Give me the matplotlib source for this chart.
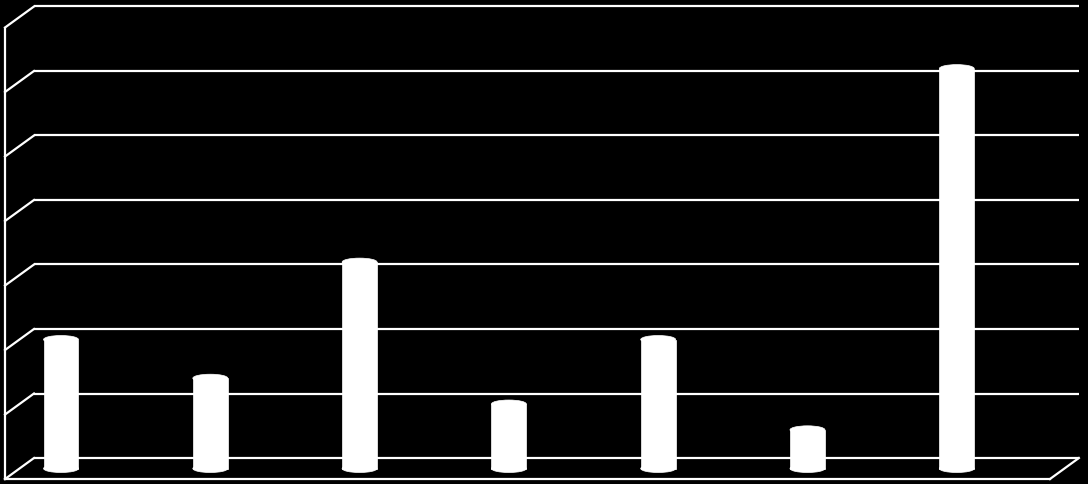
import matplotlib
matplotlib.use("Agg")
import matplotlib.pyplot as plt
from matplotlib.patches import Ellipse

categories = ["1", "2", "3", "4", "5", "6", "7"]
values = [2.0, 1.4, 3.2, 1.0, 2.0, 0.6, 6.2]
grid_levels = [0, 1, 2, 3, 4, 5, 6, 7]

fig = plt.figure(figsize=(10.88, 4.85), dpi=100, facecolor="black")
ax = fig.add_axes([0, 0, 1, 1])
ax.set_facecolor("black")
ax.set_xlim(-0.4086, 6.879)
ax.set_ylim(-0.240, 7.279)
ax.axis("off")

# oblique depth geometry (data units)
dxb, dyb = 0.097, 0.163
x_back_left, x_front_left = -0.181, -0.375
x_back_right, x_front_right = 6.818, 6.624
lw = 1.6
col = "white"

top = grid_levels[-1]
for v in grid_levels:
    ax.plot([x_back_left, x_back_right], [v + dyb, v + dyb], color=col, lw=lw, zorder=1,
            solid_capstyle="butt")
    ax.plot([x_front_left, x_back_left], [v - dyb, v + dyb], color=col, lw=lw, zorder=1)
ax.plot([x_front_left, x_front_left], [-dyb, top - dyb], color=col, lw=lw, zorder=1)
ax.plot([x_front_left, x_front_right], [-dyb, -dyb], color=col, lw=lw, zorder=1)
ax.plot([x_front_right, x_back_right], [-dyb, dyb], color=col, lw=lw, zorder=1)

xs = list(range(len(categories)))
bw = 0.234
eh = 0.124
ax.bar(xs, values, width=bw, color="white", edgecolor="white", linewidth=0.5, zorder=3)
for x, v in zip(xs, values):
    ax.add_patch(Ellipse((x, v), bw, eh, facecolor="white", edgecolor="white",
                         linewidth=0.5, zorder=4))
    ax.add_patch(Ellipse((x, 0), bw, eh, facecolor="white", edgecolor="white",
                         linewidth=0.5, zorder=4))

fig.savefig("out.png", dpi=100, facecolor="black")
